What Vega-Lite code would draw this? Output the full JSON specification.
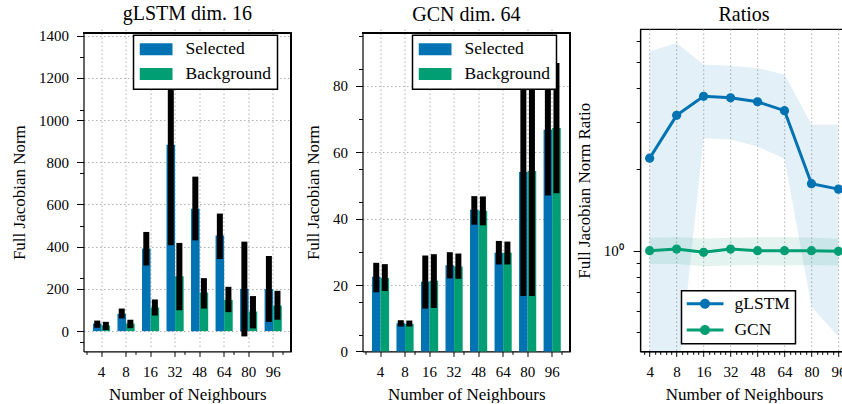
{
  "$schema": "https://vega.github.io/schema/vega-lite/v6.json",
  "padding": {"left": 10.5, "top": 4, "right": 0, "bottom": 0},
  "datasets": {
    "glstm": [
      {"n": "4", "series": "Selected", "value": 36, "lo": 16, "hi": 50},
      {"n": "4", "series": "Background", "value": 27, "lo": 5, "hi": 44},
      {"n": "8", "series": "Selected", "value": 82, "lo": 60, "hi": 107},
      {"n": "8", "series": "Background", "value": 36, "lo": 14, "hi": 54},
      {"n": "16", "series": "Selected", "value": 391, "lo": 311, "hi": 470},
      {"n": "16", "series": "Background", "value": 112, "lo": 74, "hi": 150},
      {"n": "32", "series": "Selected", "value": 883, "lo": 407, "hi": 1359},
      {"n": "32", "series": "Background", "value": 260, "lo": 99, "hi": 418},
      {"n": "48", "series": "Selected", "value": 580, "lo": 430, "hi": 732},
      {"n": "48", "series": "Background", "value": 183, "lo": 107, "hi": 251},
      {"n": "64", "series": "Selected", "value": 453, "lo": 342, "hi": 557},
      {"n": "64", "series": "Background", "value": 148, "lo": 90, "hi": 210},
      {"n": "80", "series": "Selected", "value": 200, "lo": -25, "hi": 424},
      {"n": "80", "series": "Background", "value": 93, "lo": 13, "hi": 166},
      {"n": "96", "series": "Selected", "value": 199, "lo": 44, "hi": 356},
      {"n": "96", "series": "Background", "value": 121, "lo": 54, "hi": 191}
    ],
    "gcn": [
      {"n": "4", "series": "Selected", "value": 22.5, "lo": 17.8, "hi": 26.7},
      {"n": "4", "series": "Background", "value": 22.1, "lo": 18.2, "hi": 26.3},
      {"n": "8", "series": "Selected", "value": 8.5, "lo": 7.5, "hi": 9.4},
      {"n": "8", "series": "Background", "value": 8.3, "lo": 7.5, "hi": 9.3},
      {"n": "16", "series": "Selected", "value": 21.0, "lo": 12.9, "hi": 28.9},
      {"n": "16", "series": "Background", "value": 21.3, "lo": 13.1, "hi": 29.3},
      {"n": "32", "series": "Selected", "value": 26.0, "lo": 22.0, "hi": 29.9},
      {"n": "32", "series": "Background", "value": 25.6, "lo": 21.9, "hi": 29.5},
      {"n": "48", "series": "Selected", "value": 42.7, "lo": 38.2, "hi": 46.8},
      {"n": "48", "series": "Background", "value": 42.4, "lo": 38.0, "hi": 46.7},
      {"n": "64", "series": "Selected", "value": 29.7, "lo": 26.2, "hi": 33.3},
      {"n": "64", "series": "Background", "value": 29.7, "lo": 26.2, "hi": 33.1},
      {"n": "80", "series": "Selected", "value": 54.1, "lo": 16.7, "hi": 91.5},
      {"n": "80", "series": "Background", "value": 54.4, "lo": 16.7, "hi": 92.1},
      {"n": "96", "series": "Selected", "value": 66.8, "lo": 47.0, "hi": 86.6},
      {"n": "96", "series": "Background", "value": 67.3, "lo": 47.7, "hi": 86.9}
    ],
    "ratios": [
      {"n": "4", "series": "gLSTM", "mean": 2.20, "lo": 0.30, "hi": 5.47},
      {"n": "8", "series": "gLSTM", "mean": 3.17, "lo": 0.30, "hi": 5.88},
      {"n": "16", "series": "gLSTM", "mean": 3.73, "lo": 2.61, "hi": 4.89},
      {"n": "32", "series": "gLSTM", "mean": 3.68, "lo": 2.58, "hi": 4.84},
      {"n": "48", "series": "gLSTM", "mean": 3.56, "lo": 2.43, "hi": 4.75},
      {"n": "64", "series": "gLSTM", "mean": 3.30, "lo": 2.19, "hi": 4.49},
      {"n": "80", "series": "gLSTM", "mean": 1.77, "lo": 0.62, "hi": 2.93},
      {"n": "96", "series": "gLSTM", "mean": 1.69, "lo": 0.48, "hi": 2.93},
      {"n": "4", "series": "GCN", "mean": 1.0, "lo": 0.892, "hi": 1.114},
      {"n": "8", "series": "GCN", "mean": 1.014, "lo": 0.892, "hi": 1.124},
      {"n": "16", "series": "GCN", "mean": 0.986, "lo": 0.875, "hi": 1.11},
      {"n": "32", "series": "GCN", "mean": 1.014, "lo": 0.882, "hi": 1.117},
      {"n": "48", "series": "GCN", "mean": 1.0, "lo": 0.884, "hi": 1.12},
      {"n": "64", "series": "GCN", "mean": 1.0, "lo": 0.882, "hi": 1.124},
      {"n": "80", "series": "GCN", "mean": 1.0, "lo": 0.884, "hi": 1.117},
      {"n": "96", "series": "GCN", "mean": 0.994, "lo": 0.882, "hi": 1.11}
    ]
  },
  "spacing": 12,
  "resolve": {"scale": {"color": "independent"}, "legend": {"color": "independent"}},
  "hconcat": [
    {
      "width": 207.7,
      "height": 322.4,
      "view": {"stroke": null},
      "title": {"text": "gLSTM dim. 16", "offset": 4.3},
      "data": {"name": "glstm"},
      "layer": [
        {
          "layer": [
            {
              "mark": {"type": "bar"},
              "encoding": {
                "x": {"field": "n", "type": "nominal", "sort": ["4", "8", "16", "32", "48", "64", "80", "96"], "scale": {"paddingInner": 0.3, "paddingOuter": 0.385},
                  "axis": {"title": "Number of Neighbours", "labelAngle": 0, "tickSize": 5, "labelPadding": 8, "titlePadding": 7, "grid": true, "bandPosition": 0.5}},
                "xOffset": {"field": "series", "type": "nominal", "sort": ["Selected", "Background"], "scale": {"paddingInner": 0, "paddingOuter": 0}},
                "y": {"field": "value", "type": "quantitative", "scale": {"domain": [-96, 1413], "range": [322.4, 3.9], "nice": false, "zero": false},
                  "axis": {"title": "Full Jacobian Norm", "format": "d", "values": [0, 200, 400, 600, 800, 1000, 1200, 1400], "tickSize": 7, "labelPadding": 8, "titlePadding": 10, "grid": true}},
                "color": {"field": "series", "type": "nominal", "sort": ["Selected", "Background"], "scale": {"domain": ["Selected", "Background"], "range": ["#0173B2", "#029E73"]},
                  "legend": {"title": null, "orient": "none", "legendX": 50, "legendY": 6.2, "symbolType": "M-1,-0.364H1V0.364H-1Z", "symbolSize": 1089, "symbolStrokeWidth": 0, "symbolOpacity": 1, "labelFontSize": 17.5, "labelOffset": 13, "padding": 6, "rowPadding": 6.7, "clipHeight": 16, "strokeColor": "black", "fillColor": "white", "cornerRadius": 0, "labelColor": "black",
                    "encode": {"legend": {"update": {"strokeWidth": {"value": 1.5}}}}}}
              }
            },
            {
              "mark": {"type": "rule", "strokeWidth": 6, "color": "black"},
              "encoding": {
                "x": {"field": "n", "type": "nominal", "sort": ["4", "8", "16", "32", "48", "64", "80", "96"]},
                "xOffset": {"field": "series", "type": "nominal", "sort": ["Selected", "Background"]},
                "y": {"field": "lo", "type": "quantitative"},
                "y2": {"field": "hi"}
              }
            }
          ]
        },
        {
          "layer": [
            {
              "mark": {"type": "point", "opacity": 0},
              "encoding": {
                "x": {"datum": 0, "type": "quantitative", "scale": {"domain": [-0.735, 7.735], "nice": false, "zero": false},
                  "axis": {"orient": "bottom", "values": [-0.6, -0.4, -0.2, 0.2, 0.4, 0.6, 0.8, 1.2, 1.4, 1.6, 1.8, 2.2, 2.4, 2.6, 2.8, 3.2, 3.4, 3.6, 3.8, 4.2, 4.4, 4.6, 4.8, 5.2, 5.4, 5.6, 5.8, 6.2, 6.4, 6.6, 6.8, 7.2, 7.4, 7.6], "labels": false, "tickSize": 3, "domain": false, "grid": false, "title": null}},
                "y": {"datum": 0, "type": "quantitative",
                  "axis": {"orient": "left", "values": [-50, 50, 100, 150, 250, 300, 350, 450, 500, 550, 650, 700, 750, 850, 900, 950, 1050, 1100, 1150, 1250, 1300, 1350], "labels": false, "tickSize": 4, "domain": false, "grid": false, "title": null}}
              }
            },
            {
              "mark": {"type": "rule", "color": "black", "strokeWidth": 1.2},
              "encoding": {"y": {"datum": 1413, "type": "quantitative"}}
            },
            {
              "mark": {"type": "rule", "color": "black", "strokeWidth": 1.2},
              "encoding": {"x": {"datum": 7.735, "type": "quantitative"}, "y": {"datum": -96, "type": "quantitative"}, "y2": {"datum": 1413}}
            }
          ]
        }
      ],
      "resolve": {"scale": {"x": "independent"}, "axis": {"x": "independent", "y": "independent"}}
    },
    {
      "spacing": 2.7,
      "resolve": {"scale": {"color": "independent"}, "legend": {"color": "independent"}},
      "hconcat": [
        {
          "width": 207.7,
          "height": 322.4,
          "view": {"stroke": null},
          "title": {"text": "GCN dim. 64", "offset": 4.3},
          "data": {"name": "gcn"},
          "layer": [
            {
              "layer": [
                {
                  "mark": {"type": "bar"},
                  "encoding": {
                    "x": {"field": "n", "type": "nominal", "sort": ["4", "8", "16", "32", "48", "64", "80", "96"], "scale": {"paddingInner": 0.3, "paddingOuter": 0.385},
                      "axis": {"title": "Number of Neighbours", "labelAngle": 0, "tickSize": 5, "labelPadding": 8, "titlePadding": 7, "grid": true, "bandPosition": 0.5}},
                    "xOffset": {"field": "series", "type": "nominal", "sort": ["Selected", "Background"], "scale": {"paddingInner": 0, "paddingOuter": 0}},
                    "y": {"field": "value", "type": "quantitative", "scale": {"domain": [0, 96], "range": [322.4, 3.9], "nice": false, "zero": false},
                      "axis": {"title": "Full Jacobian Norm", "format": "d", "values": [0, 20, 40, 60, 80], "tickSize": 7, "labelPadding": 8, "titlePadding": 10, "grid": true}},
                    "color": {"field": "series", "type": "nominal", "sort": ["Selected", "Background"], "scale": {"domain": ["Selected", "Background"], "range": ["#0173B2", "#029E73"]},
                      "legend": {"title": null, "orient": "none", "legendX": 50, "legendY": 6.2, "symbolType": "M-1,-0.364H1V0.364H-1Z", "symbolSize": 1089, "symbolStrokeWidth": 0, "symbolOpacity": 1, "labelFontSize": 17.5, "labelOffset": 13, "padding": 6, "rowPadding": 6.7, "clipHeight": 16, "strokeColor": "black", "fillColor": "white", "cornerRadius": 0, "labelColor": "black",
                        "encode": {"legend": {"update": {"strokeWidth": {"value": 1.5}}}}}}
                  }
                },
                {
                  "mark": {"type": "rule", "strokeWidth": 6, "color": "black"},
                  "encoding": {
                    "x": {"field": "n", "type": "nominal", "sort": ["4", "8", "16", "32", "48", "64", "80", "96"]},
                    "xOffset": {"field": "series", "type": "nominal", "sort": ["Selected", "Background"]},
                    "y": {"field": "lo", "type": "quantitative"},
                    "y2": {"field": "hi"}
                  }
                }
              ]
            },
            {
              "layer": [
                {
                  "mark": {"type": "point", "opacity": 0},
                  "encoding": {
                    "x": {"datum": 0, "type": "quantitative", "scale": {"domain": [-0.735, 7.735], "nice": false, "zero": false},
                      "axis": {"orient": "bottom", "values": [-0.6, -0.4, -0.2, 0.2, 0.4, 0.6, 0.8, 1.2, 1.4, 1.6, 1.8, 2.2, 2.4, 2.6, 2.8, 3.2, 3.4, 3.6, 3.8, 4.2, 4.4, 4.6, 4.8, 5.2, 5.4, 5.6, 5.8, 6.2, 6.4, 6.6, 6.8, 7.2, 7.4, 7.6], "labels": false, "tickSize": 3, "domain": false, "grid": false, "title": null}},
                    "y": {"datum": 0, "type": "quantitative",
                      "axis": {"orient": "left", "values": [5, 10, 15, 25, 30, 35, 45, 50, 55, 65, 70, 75, 85, 90, 95], "labels": false, "tickSize": 4, "domain": false, "grid": false, "title": null}}
                  }
                },
                {
                  "mark": {"type": "rule", "color": "black", "strokeWidth": 1.2},
                  "encoding": {"y": {"datum": 96, "type": "quantitative"}}
                },
                {
                  "mark": {"type": "rule", "color": "black", "strokeWidth": 1.2},
                  "encoding": {"x": {"datum": 7.735, "type": "quantitative"}, "y": {"datum": 0, "type": "quantitative"}, "y2": {"datum": 96}}
                }
              ]
            }
          ],
          "resolve": {"scale": {"x": "independent"}, "axis": {"x": "independent", "y": "independent"}}
        },
        {
          "width": 207.7,
          "height": 322.4,
          "title": {"text": "Ratios", "offset": 4.3},
          "data": {"name": "ratios"},
          "layer": [
            {
              "layer": [
                {
                  "mark": {"type": "area", "fillOpacity": 0.11, "clip": true},
                  "encoding": {
                    "x": {"field": "n", "type": "nominal", "sort": ["4", "8", "16", "32", "48", "64", "80", "96"], "scale": {"type": "point", "padding": 0.35},
                      "axis": {"title": "Number of Neighbours", "labelAngle": 0, "tickSize": 5, "labelPadding": 8, "titlePadding": 7, "grid": true}},
                    "y": {"field": "lo", "type": "quantitative", "stack": null, "scale": {"type": "log", "domain": [0.4236, 6.62], "nice": false},
                      "axis": {"title": "Full Jacobian Norm Ratio", "values": [1], "labelExpr": "'10⁰'", "tickSize": 7, "labelPadding": 10, "titlePadding": 10, "grid": false}},
                    "y2": {"field": "hi"},
                    "fill": {"field": "series", "type": "nominal", "scale": {"domain": ["gLSTM", "GCN"], "range": ["#0173B2", "#029E73"]}, "legend": null}
                  }
                },
                {
                  "mark": {"type": "line", "strokeWidth": 3},
                  "encoding": {
                    "x": {"field": "n", "type": "nominal", "sort": ["4", "8", "16", "32", "48", "64", "80", "96"]},
                    "y": {"field": "mean", "type": "quantitative"},
                    "stroke": {"field": "series", "type": "nominal", "scale": {"domain": ["gLSTM", "GCN"], "range": ["#0173B2", "#029E73"]}, "legend": null}
                  }
                },
                {
                  "mark": {"type": "point", "filled": true, "size": 85, "opacity": 1},
                  "encoding": {
                    "x": {"field": "n", "type": "nominal", "sort": ["4", "8", "16", "32", "48", "64", "80", "96"]},
                    "y": {"field": "mean", "type": "quantitative"},
                    "color": {"field": "series", "type": "nominal", "scale": {"domain": ["gLSTM", "GCN"], "range": ["#0173B2", "#029E73"]},
                      "legend": {"title": null, "orient": "none", "legendX": 41.3, "legendY": 261.8, "symbolType": "M-1,-0.08H1V0.08H-1Z M0.27,0A0.27,0.27 0 1,1 -0.27,0A0.27,0.27 0 1,1 0.27,0Z", "symbolSize": 1369, "symbolStrokeWidth": 0, "symbolOpacity": 1, "labelFontSize": 17.5, "labelOffset": 11, "padding": 5, "rowPadding": 8.3, "clipHeight": 16, "strokeColor": "black", "fillColor": "white", "cornerRadius": 0, "labelColor": "black",
                        "encode": {"legend": {"update": {"strokeWidth": {"value": 1.5}}}}}}
                  }
                }
              ]
            },
            {
              "mark": {"type": "point", "opacity": 0},
              "encoding": {
                "x": {"datum": 0, "type": "quantitative", "scale": {"domain": [-0.35, 7.35], "nice": false, "zero": false},
                  "axis": {"orient": "bottom", "values": [-0.2, 0.2, 0.4, 0.6, 0.8, 1.2, 1.4, 1.6, 1.8, 2.2, 2.4, 2.6, 2.8, 3.2, 3.4, 3.6, 3.8, 4.2, 4.4, 4.6, 4.8, 5.2, 5.4, 5.6, 5.8, 6.2, 6.4, 6.6, 6.8, 7.2], "labels": false, "tickSize": 3, "domain": false, "grid": false, "title": null}},
                "y": {"datum": 1, "type": "quantitative",
                  "axis": {"orient": "left", "values": [0.5, 0.6, 0.7, 0.8, 0.9, 2, 3, 4, 5, 6], "labels": false, "tickSize": 4, "domain": false, "grid": false, "title": null}}
              }
            }
          ],
          "resolve": {"scale": {"x": "independent"}, "axis": {"x": "independent", "y": "independent"}}
        }
      ]
    }
  ],
  "config": {
    "font": "Liberation Serif",
    "view": {"stroke": "black", "strokeWidth": 1.2},
    "axis": {"domainColor": "black", "domainWidth": 1.2, "tickColor": "black", "tickWidth": 1, "labelColor": "black", "titleColor": "black", "labelFontSize": 15, "titleFontSize": 17, "titleFontWeight": "normal", "gridColor": "#b0b0b0", "gridDash": [1.5, 2.5], "gridWidth": 1, "labelOverlap": false},
    "title": {"fontSize": 20, "fontWeight": "normal", "color": "black"}
  }
}
